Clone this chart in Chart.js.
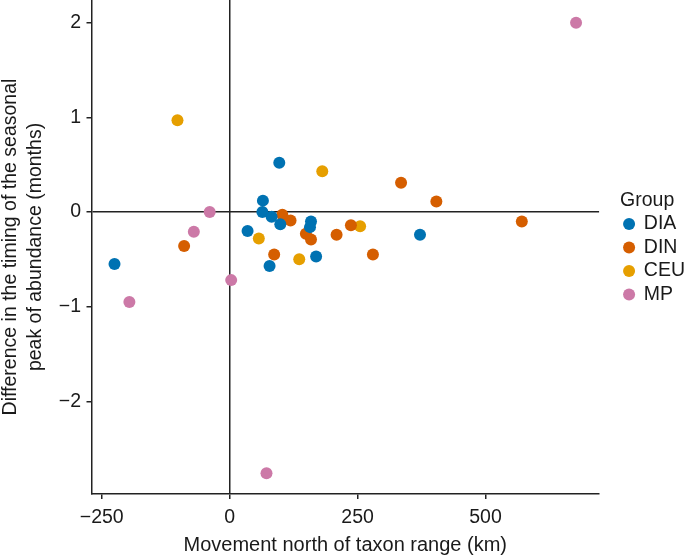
<!DOCTYPE html>
<html>
<head>
<meta charset="utf-8">
<script src="https://cdn.jsdelivr.net/npm/chart.js@4.4.1/dist/chart.umd.min.js"></script>
<style>
  html, body { margin: 0; padding: 0; background: #fff; }
  #wrap { width: 685px; height: 557px; }
</style>
</head>
<body>
<div id="wrap"><canvas id="chartPeak"></canvas></div>
<script>
// values: movement north (km) vs. shift of seasonal peak (months)
const groups = ['DIA', 'DIN', 'CEU', 'MP'];
const groupColors = ['#0072B2', '#D55E00', '#E69F00', '#CC79A7'];

const diaX = [97, 65, 64, 82, 99, 159, 157, 35, 78, 169, -225, 372];
const diaY = [0.52, 0.12, 0.0, -0.05, -0.13, -0.10, -0.16, -0.20, -0.57, -0.47, -0.55, -0.24];

const dinX = [103, 119, 149, 159, 209, -89, 237, 280, 87, 335, 404, 571];
const dinY = [-0.03, -0.09, -0.23, -0.29, -0.24, -0.36, -0.14, -0.45, -0.45, 0.31, 0.11, -0.10];

const ceuX = [-102, 181, 57, 255, 136];
const ceuY = [0.97, 0.43, -0.28, -0.15, -0.50];

const mpX = [-39, -70, 3, -196, 72, 677];
const mpY = [0.0, -0.21, -0.72, -0.95, -2.76, 2.0];

const xTicks = [-250, 0, 250, 500];
const yTicks = [-2, -1, 0, 1, 2];

const seriesX = [diaX, dinX, ceuX, mpX];
const seriesY = [diaY, dinY, ceuY, mpY];

const font = "'Liberation Sans', Arial, Helvetica, sans-serif";
const ink = '#1a1a1a';
const axisInk = '#222';

function toPoints(xs, ys) {
    return xs.map((x, i) => ({ x: x, y: ys[i] }));
}

function minusSign(v) {
    return String(v).replace('-', '\u2212');
}

// legend sits a little away from the plot in the original
const nudgeLegend = {
    id: 'nudgeLegend',
    afterLayout(chart) {
        chart.legend.left += 21;
        chart.legend.right += 21;
    }
};

const datasets = groups.map((g, i) => ({
    label: g,
    data: toPoints(seriesX[i], seriesY[i]),
    backgroundColor: groupColors[i],
    borderWidth: 0,
    pointRadius: 6,
    pointHoverRadius: 6,
    pointStyle: 'circle'
}));

const zeroLine = function(ctx) {
    return ctx.tick && ctx.tick.value === 0 ? axisInk : 'rgba(0,0,0,0)';
};

const ctx = document.getElementById('chartPeak').getContext('2d');
new Chart(ctx, {
    type: 'scatter',
    data: { datasets: datasets },
    plugins: [nudgeLegend],
    options: {
        responsive: true,
        maintainAspectRatio: false,
        animation: false,
        events: [],
        layout: { autoPadding: false, padding: { left: 0, right: 11, top: 0, bottom: 0 } },
        scales: {
            x: {
                type: 'linear',
                min: -270,
                max: 722,
                afterFit: function(scale) {
                    scale.height = 63;
                    scale.paddingLeft = 0;
                    scale.paddingRight = 0;
                },
                afterBuildTicks: function(scale) {
                    scale.ticks = xTicks.map(v => ({ value: v }));
                },
                ticks: {
                    font: { family: font, size: 19.5 },
                    color: ink,
                    padding: 7,
                    maxRotation: 0,
                    callback: minusSign
                },
                grid: {
                    color: zeroLine,
                    lineWidth: 1.5,
                    drawTicks: true,
                    tickLength: 5,
                    tickColor: axisInk,
                    tickWidth: 1.5
                },
                border: { display: true, color: axisInk, width: 1.5 },
                title: {
                    display: true,
                    text: 'Movement north of taxon range (km)',
                    font: { family: font, size: 20 },
                    color: ink,
                    padding: { top: 0, bottom: 0 }
                }
            },
            y: {
                type: 'linear',
                min: -2.98,
                max: 2.24,
                afterFit: function(scale) {
                    scale.width = 91.5;
                    scale.paddingTop = 0;
                    scale.paddingBottom = 0;
                },
                afterBuildTicks: function(scale) {
                    scale.ticks = yTicks.map(v => ({ value: v }));
                },
                ticks: {
                    font: { family: font, size: 19.5 },
                    color: ink,
                    padding: 5.5,
                    callback: minusSign
                },
                grid: {
                    color: zeroLine,
                    lineWidth: 1.5,
                    drawTicks: true,
                    tickLength: 5,
                    tickColor: axisInk,
                    tickWidth: 1.5
                },
                border: { display: true, color: axisInk, width: 1.5 },
                title: {
                    display: true,
                    text: ['Difference in the timing of the seasonal', 'peak of abundance (months)'],
                    font: { family: font, size: 19.5, lineHeight: 1.3 },
                    color: ink,
                    padding: { top: -2.5, bottom: 0 }
                }
            }
        },
        plugins: {
            tooltip: { enabled: false },
            legend: {
                display: true,
                position: 'right',
                align: 'center',
                fullSize: false,
                title: {
                    display: true,
                    text: 'Group',
                    position: 'start',
                    color: ink,
                    font: { family: font, size: 19.5 },
                    padding: { top: 5, bottom: -3.8 }
                },
                labels: {
                    usePointStyle: true,
                    pointStyle: 'circle',
                    boxWidth: 10,
                    boxHeight: 8.5,
                    padding: 4,
                    color: ink,
                    font: { family: font, size: 19.5 }
                }
            }
        }
    }
});
</script>
</body>
</html>
